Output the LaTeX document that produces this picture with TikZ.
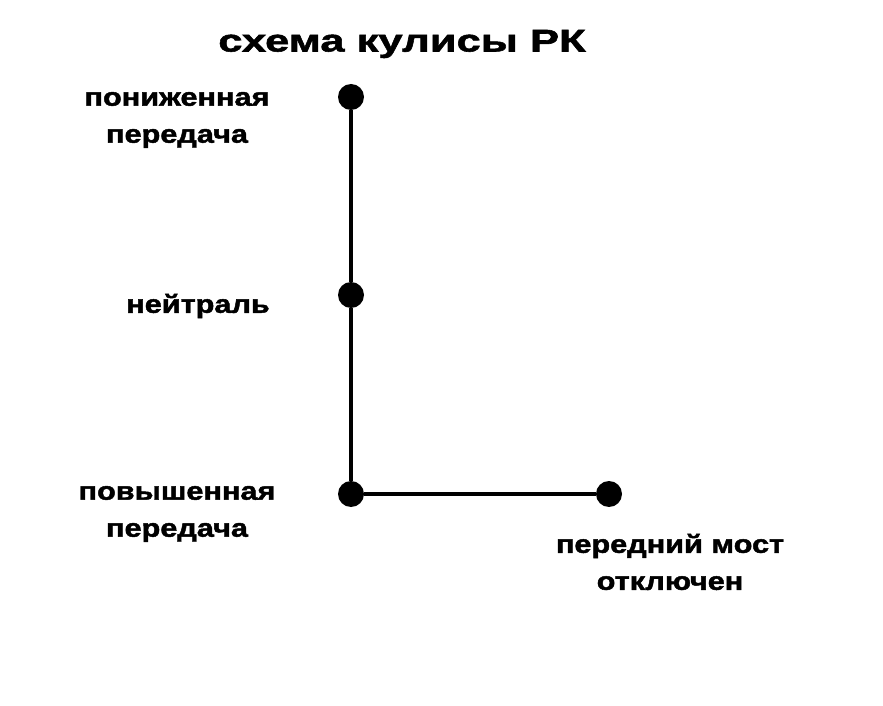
\documentclass[tikz,border=0pt]{standalone}
\usepackage{fontspec}
\setmainfont{Liberation Sans}
\newfontfamily\lblfont{Liberation Sans}[FakeStretch=1.21,BoldFeatures={FakeBold=1.8,FakeStretch=1.21}]
\newfontfamily\titlefont{Liberation Sans}[FakeStretch=1.39,BoldFeatures={FakeBold=1.8,FakeStretch=1.39}]
\begin{document}
\begin{tikzpicture}[x=0.75pt,y=-0.75pt,
  dot/.style={circle,fill=black,inner sep=0pt,minimum size=19.5pt},
  lbl/.style={font=\lblfont\bfseries\fontsize{19}{27.75}\selectfont,align=center,inner sep=0pt},
  link/.style={line width=3pt}]
\fill[white] (0,0) rectangle (883,706);
\useasboundingbox (0,0) rectangle (883,706);
\node[font=\titlefont\bfseries\fontsize{23.5}{28}\selectfont,inner sep=0pt] (title) at (402,44) {схема кулисы РК};
\node[dot] (low) at (351,97) {};
\node[dot] (neu) at (351,295) {};
\node[dot] (high) at (351,494) {};
\node[dot] (front) at (609,494) {};
\draw[link] (low) -- (neu) -- (high) -- (front);
\node[lbl] (tlow) at (177,120) {пониженная\\передача};
\node[lbl] (tneu) at (198,306) {нейтраль};
\node[lbl] (thigh) at (177,514) {повышенная\\передача};
\node[lbl] (tfront) at (670,562) {передний мост\\отключен};
\end{tikzpicture}
\end{document}
